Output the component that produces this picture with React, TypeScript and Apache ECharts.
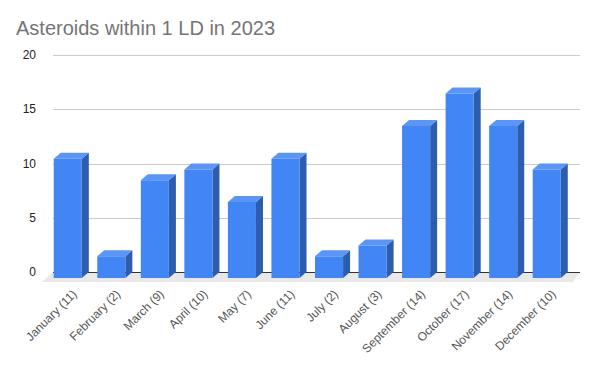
import React, { useEffect, useRef } from "react";
import * as echarts from "echarts";

const categories = [
  "January (11)",
  "February (2)",
  "March (9)",
  "April (10)",
  "May (7)",
  "June (11)",
  "July (2)",
  "August (3)",
  "September (14)",
  "October (17)",
  "November (14)",
  "December (10)",
];
const asteroidCounts = [11, 2, 9, 10, 7, 11, 2, 3, 14, 17, 14, 10];
const yTicks = [0, 5, 10, 15, 20];
const yMin = 0;
const yMax = 20;
const yInterval = 5;

const FRONT = "#4285F4";
const TOP = "#5B95F5";
const SIDE = "#2D5DAF";
const FONT = "'Liberation Sans', Arial, sans-serif";

export default function App() {
  const ref = useRef<HTMLDivElement>(null);
  useEffect(() => {
    if (!ref.current) return;
    const chart = echarts.init(ref.current, null, { renderer: "svg" });
    const dx = 7;
    const dy = 6;
    chart.setOption({
      animation: false,
      backgroundColor: "#ffffff",
      title: {
        text: "Asteroids within 1 LD in 2023",
        left: 3,
        top: 5,
        textStyle: {
          fontFamily: FONT,
          fontSize: 20,
          fontWeight: "normal",
          color: "#757575",
        },
      },
      grid: { left: 45, right: 13.5, top: 47, bottom: 89, containLabel: false },
      xAxis: {
        type: "category",
        data: categories,
        axisLine: { show: false },
        axisTick: { show: false },
        axisLabel: {
          rotate: 45,
          interval: 0,
          margin: 20,
          fontFamily: FONT,
          fontSize: 12,
          color: "#555555",
        },
      },
      yAxis: {
        type: "value",
        min: yMin,
        max: yMax,
        interval: yInterval,
        axisLine: { show: false },
        axisTick: { show: false },
        axisLabel: {
          margin: 17,
          fontFamily: FONT,
          fontSize: 12,
          color: "#222222",
        },
        splitLine: { show: false },
      },
      series: [
        {
          type: "custom",
          z: 1,
          silent: true,
          data: [[0, 0]],
          encode: { x: 0, y: 1 },
          renderItem: (params: any, api: any) => {
            const cs = params.coordSys;
            const y0 = api.coord([0, 0])[1];
            const x0 = cs.x;
            const x1 = cs.x + cs.width + 4.5;
            const grid = yTicks
              .filter((t) => t !== 0)
              .map((t) => {
                const yy = Math.round(api.coord([0, t])[1]) + 0.5;
                return {
                  type: "line",
                  shape: { x1: x0, y1: yy, x2: x1, y2: yy },
                  style: { stroke: "#cccccc", lineWidth: 1 },
                };
              });
            return {
              type: "group",
              children: [
                ...grid,
                {
                  type: "polygon",
                  shape: {
                    points: [
                      [x0, y0],
                      [x1, y0],
                      [x1 - 7, y0 + 10],
                      [x0 - 11, y0 + 10],
                    ],
                  },
                  style: { fill: "#e8e8e8" },
                },
                {
                  type: "line",
                  shape: { x1: x0, y1: y0 + 0.5, x2: x1, y2: y0 + 0.5 },
                  style: { stroke: "#333333", lineWidth: 1 },
                },
              ],
            };
          },
        },
        {
          type: "custom",
          z: 3,
          data: asteroidCounts.map((v, i) => [i, v]),
          encode: { x: 0, y: 1 },
          renderItem: (params: any, api: any) => {
            const idx = api.value(0);
            const v = api.value(1);
            const top = api.coord([idx, v]);
            const base = api.coord([idx, 0]);
            const band = api.size([1, 0])[0];
            const w = band * 0.645;
            const fx = top[0] - w / 2 - dx;
            const fTop = top[1] + dy;
            const fBot = base[1] + dy;
            return {
              type: "group",
              children: [
                {
                  type: "polygon",
                  shape: {
                    points: [
                      [fx + w, fTop],
                      [fx + w + dx, fTop - dy],
                      [fx + w + dx, fBot - dy],
                      [fx + w, fBot],
                    ],
                  },
                  style: { fill: SIDE },
                },
                {
                  type: "polygon",
                  shape: {
                    points: [
                      [fx, fTop],
                      [fx + dx, fTop - dy],
                      [fx + w + dx, fTop - dy],
                      [fx + w, fTop],
                    ],
                  },
                  style: { fill: TOP },
                },
                {
                  type: "rect",
                  shape: { x: fx, y: fTop, width: w, height: fBot - fTop },
                  style: { fill: FRONT },
                },
              ],
            };
          },
        },
      ],
    });
    return () => chart.dispose();
  }, []);
  return <div ref={ref} style={{ width: 581, height: 353 }} />;
}
